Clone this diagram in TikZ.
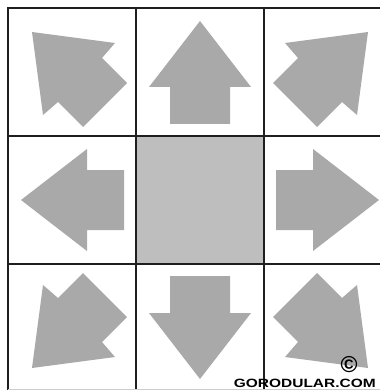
\documentclass[tikz,border=0pt]{standalone}
\usepackage{fontspec}
\setmainfont{Liberation Sans}
\definecolor{arrowgray}{HTML}{A9A9A9}
\definecolor{centergray}{HTML}{BEBEBE}
\definecolor{gridline}{HTML}{1E1E1E}
\tikzset{
  arrowshape/.style={fill=arrowgray},
  gridrule/.style={draw=gridline, line width=2pt},
  marktext/.style={inner sep=0pt, font=\bfseries\fontsize{12}{13}\selectfont, xscale=1.29}
}
\begin{document}
\begin{tikzpicture}[x=1pt,y=-1pt]
\useasboundingbox (0,0) rectangle (380,390);
\fill[white] (0,0) rectangle (380,390);
% centre square
\fill[centergray] (137,137) rectangle (263,263);
% orthogonal arrows
\fill[arrowshape] (200,21) -- (251,87) -- (230,87) -- (230,124) -- (170,124) -- (170,87) -- (149,87) -- cycle;
\fill[arrowshape] (200,379) -- (251,313) -- (230,313) -- (230,276) -- (170,276) -- (170,313) -- (149,313) -- cycle;
\fill[arrowshape] (21,200) -- (87,149) -- (87,170) -- (124,170) -- (124,230) -- (87,230) -- (87,251) -- cycle;
\fill[arrowshape] (379,200) -- (313,149) -- (313,170) -- (276,170) -- (276,230) -- (313,230) -- (313,251) -- cycle;
% diagonal arrows
\fill[arrowshape] (32,32) -- (115,43) -- (102,58) -- (127,83) -- (83,127) -- (58,102) -- (43,115) -- cycle;
\fill[arrowshape] (368,32) -- (285,43) -- (298,58) -- (273,83) -- (317,127) -- (342,102) -- (357,115) -- cycle;
\fill[arrowshape] (32,368) -- (115,357) -- (102,342) -- (127,317) -- (83,273) -- (58,298) -- (43,285) -- cycle;
\fill[arrowshape] (368,368) -- (285,357) -- (298,342) -- (273,317) -- (317,273) -- (342,298) -- (357,285) -- cycle;
% grid
\draw[gridrule] (8,8) -- (380,8);
\draw[gridrule] (8,136) -- (380,136);
\draw[gridrule] (8,264) -- (380,264);
\draw[gridrule] (8,7) -- (8,390);
\draw[gridrule] (136,7) -- (136,390);
\draw[gridrule] (264,7) -- (264,390);
\draw[draw=black!20, line width=1pt] (8,389.5) -- (380,389.5);
% watermark
\node[font=\bfseries\fontsize{23}{24}\selectfont, inner sep=0pt] (copy) at (349,365) {©};
\node[marktext, anchor=base east] (mark) at (376,387) {GORODULAR.COM};
\end{tikzpicture}
\end{document}
